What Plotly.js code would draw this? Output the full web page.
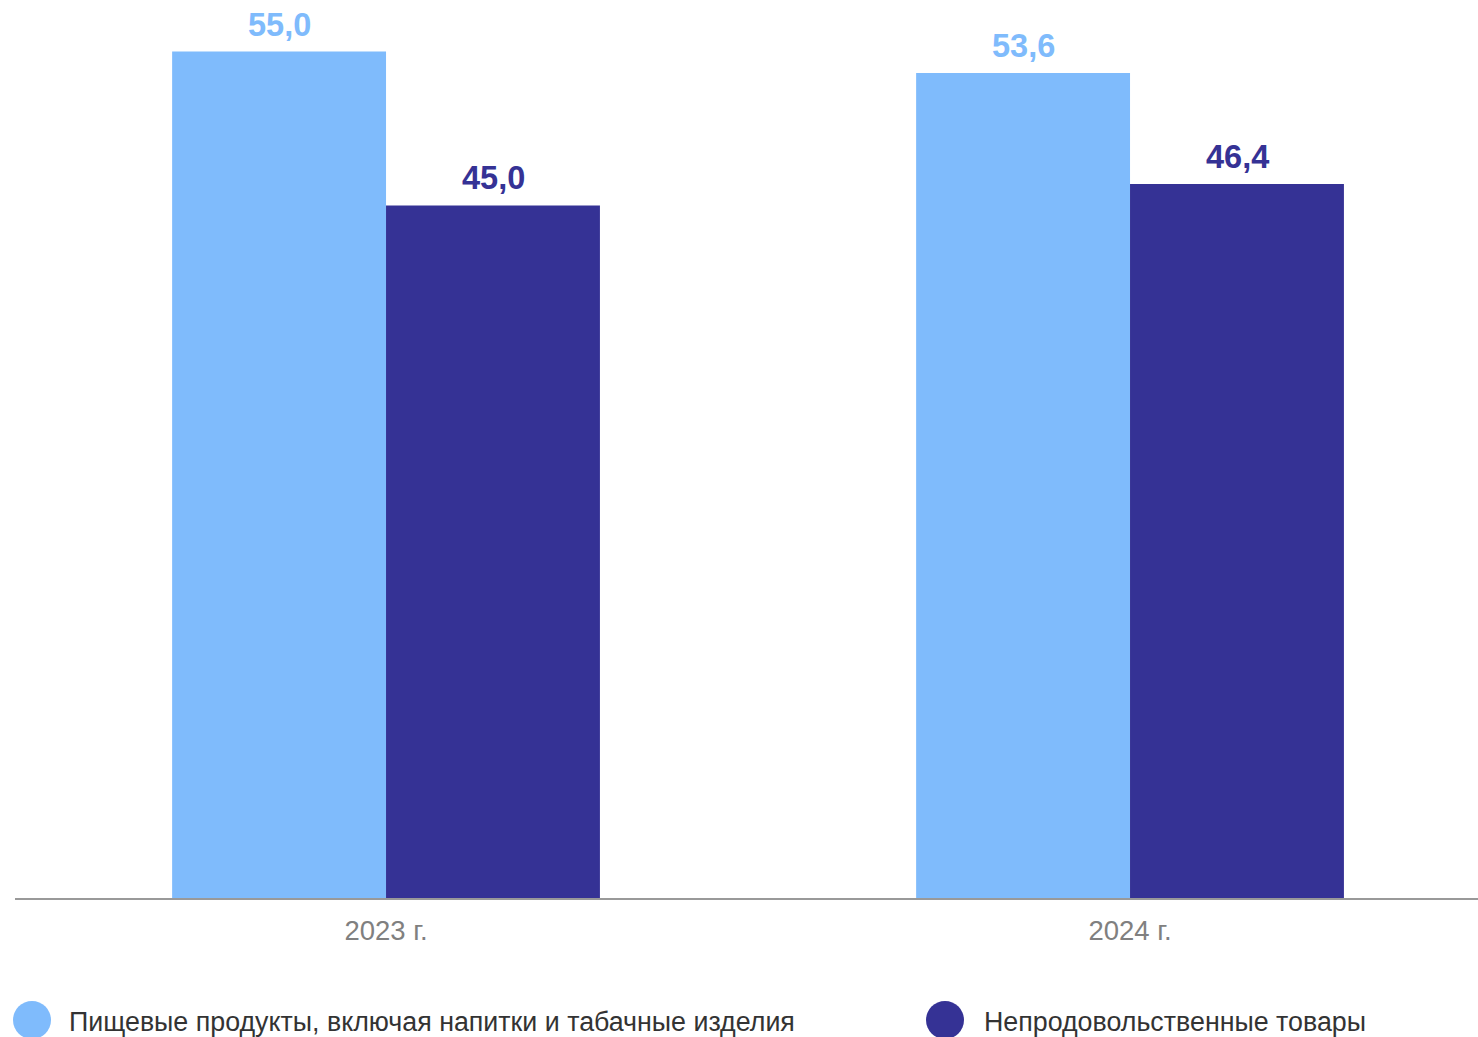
<!DOCTYPE html>
<html>
<head>
<meta charset="utf-8">
<script src="https://cdn.plot.ly/plotly-3.0.1.min.js"></script>
<style>html,body{margin:0;padding:0;overflow:hidden;background:#fff;}</style>
</head>
<body>
<div id="chart" style="width:1478px;height:1037px;"></div>
<script>
const categories = ["2023 г.", "2024 г."];
const seriesNames = ["Пищевые продукты, включая напитки и табачные изделия", "Непродовольственные товары"];
const foodValues = [55.0, 53.6];
const nonFoodValues = [45.0, 46.4];
const colors = ["#7FBBFC", "#353295"];

const W = 1478, H = 1037, ML = 15, MB = 139;
const PW = W - ML, PH = H - MB;
const px2x = p => (p - ML) / PW;
const px2y = p => (PH - p) / PH;
const fmt = v => v.toFixed(1).replace('.', ',');
const FONT = 'Liberation Sans, Arial, sans-serif';

const traces = [
  {type: 'bar', x: categories, y: foodValues, name: seriesNames[0], marker: {color: colors[0]}, hoverinfo: 'none'},
  {type: 'bar', x: categories, y: nonFoodValues, name: seriesNames[1], marker: {color: colors[1]}, hoverinfo: 'none'}
];

const annotations = [];
const seriesVals = [foodValues, nonFoodValues];
seriesVals.forEach((vals, s) => {
  vals.forEach((v, i) => {
    annotations.push({
      x: categories[i], y: v, xref: 'x', yref: 'y',
      xshift: s === 0 ? -107 : 107, yshift: 7,
      yanchor: 'bottom', showarrow: false,
      text: '<b>' + fmt(v) + '</b>',
      font: {family: FONT, size: 32.5, color: colors[s]}
    });
  });
});

// custom legend
const legendPos = [{cx: 32, tx: 67}, {cx: 945, tx: 982}];
const shapes = [];
seriesNames.forEach((n, s) => {
  const p = legendPos[s];
  shapes.push({type: 'circle', xref: 'paper', yref: 'paper',
    x0: px2x(p.cx - 19), x1: px2x(p.cx + 19), y0: px2y(1039), y1: px2y(1001),
    fillcolor: colors[s], line: {width: 0}});
  annotations.push({xref: 'paper', yref: 'paper', x: px2x(p.tx), y: px2y(1022),
    xanchor: 'left', yanchor: 'middle', showarrow: false, text: n,
    font: {family: FONT, size: 26.8, color: '#333333'}});
});

const layout = {
  width: W, height: H,
  margin: {l: ML, r: 0, t: 0, b: MB, pad: 0},
  paper_bgcolor: '#fff', plot_bgcolor: '#fff',
  showlegend: false,
  barmode: 'group', bargap: 0.425, bargroupgap: 0,
  font: {family: FONT},
  xaxis: {type: 'category', range: [-0.4987, 1.4677], showline: true, linecolor: '#999999', linewidth: 1.5,
    showgrid: false, zeroline: false, ticks: '', ticklabelstandoff: 7,
    tickfont: {size: 27.5, color: '#808080', family: FONT}, fixedrange: true},
  yaxis: {range: [0, 58.35], visible: false, showgrid: false, zeroline: false, fixedrange: true},
  annotations: annotations,
  shapes: shapes
};

Plotly.newPlot('chart', traces, layout, {displayModeBar: false, staticPlot: true});
</script>
</body>
</html>
